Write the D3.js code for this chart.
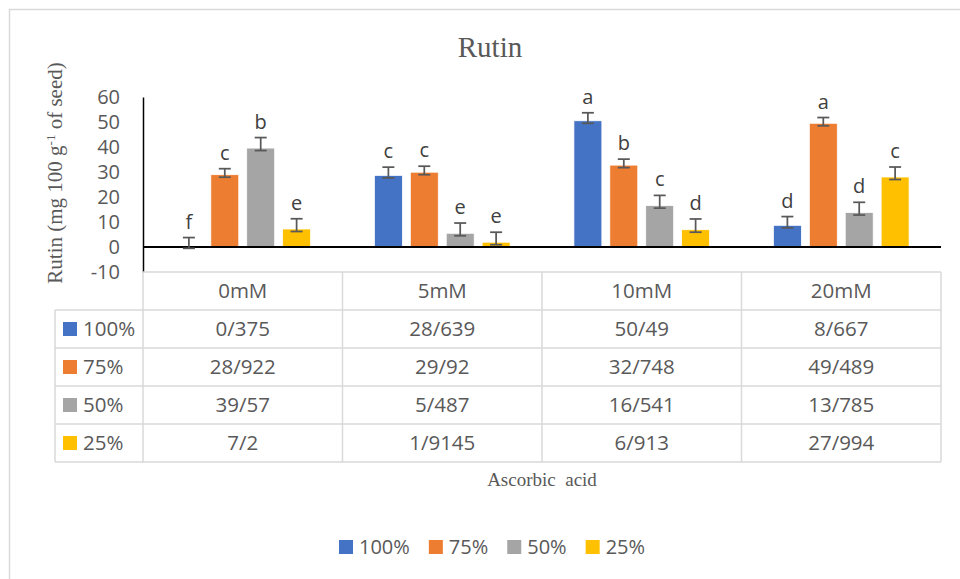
<!DOCTYPE html>
<html>
<head>
<meta charset="utf-8">
<script src="https://cdn.jsdelivr.net/npm/d3@7"></script>
<style>
  html, body { margin: 0; padding: 0; background: #fff; }
  svg { display: block; }
</style>
</head>
<body>
<svg id="chart" width="960" height="579"></svg>
<script>
// ---------------- data ----------------
const categories = ["0mM", "5mM", "10mM", "20mM"];
const seriesNames = ["100%", "75%", "50%", "25%"];
const values100 = [0.375, 28.639, 50.49, 8.667];
const values75  = [28.922, 29.92, 32.748, 49.489];
const values50  = [39.57, 5.487, 16.541, 13.785];
const values25  = [7.2, 1.9145, 6.913, 27.994];
const errPlus100 = [3.4, 3.3, 3.2, 3.5];
const errPlus75  = [2.4, 2.4, 2.4, 2.3];
const errPlus50  = [4.2, 4.1, 4.1, 4.1];
const errPlus25  = [4.1, 4.0, 4.3, 4.0];
const errMinus100 = [0.9, 1.0, 1.0, 1.0];
const errMinus75  = [1.0, 1.0, 1.0, 1.0];
const errMinus50  = [1.0, 1.0, 1.0, 1.0];
const errMinus25  = [1.0, 1.0, 1.0, 1.0];
const letters100 = ["f", "c", "a", "d"];
const letters75  = ["c", "c", "b", "a"];
const letters50  = ["b", "e", "c", "d"];
const letters25  = ["e", "e", "d", "c"];
const yTicks = [-10, 0, 10, 20, 30, 40, 50, 60];
const colors = ["#4472C4", "#ED7D31", "#A5A5A5", "#FFC000"];

const series = [
  { name: seriesNames[0], values: values100, up: errPlus100, down: errMinus100, letters: letters100, color: colors[0] },
  { name: seriesNames[1], values: values75,  up: errPlus75,  down: errMinus75,  letters: letters75,  color: colors[1] },
  { name: seriesNames[2], values: values50,  up: errPlus50,  down: errMinus50,  letters: letters50,  color: colors[2] },
  { name: seriesNames[3], values: values25,  up: errPlus25,  down: errMinus25,  letters: letters25,  color: colors[3] }
];

// ---------------- layout ----------------
const svg = d3.select("#chart");
const sansFont = "'Open Sans', 'Noto Sans', sans-serif";
const serifFont = "'Liberation Serif', 'Times New Roman', serif";
const plotLeft = 143, plotRight = 941, plotTop = 97, plotBottom = 272;
const rowH = 38;
const tableLeft = 55;

// outer border
svg.append("rect").attr("x", 9.5).attr("y", 9.5).attr("width", 1000).attr("height", 1000)
  .attr("fill", "none").attr("stroke", "#d9d9d9").attr("stroke-width", 1.5);

const y = d3.scaleLinear().domain([-10, 60]).range([plotBottom, plotTop]);
const x0 = d3.scaleBand().domain(categories).range([plotLeft, plotRight]);
const x1 = d3.scaleBand().domain(seriesNames).range([0, x0.bandwidth()])
  .paddingInner(0.222).paddingOuter(0.889);

// title
svg.append("text").attr("x", 490).attr("y", 57).attr("text-anchor", "middle")
  .attr("font-family", serifFont).attr("font-size", 29).attr("fill", "#595959").text("Rutin");

// y axis label
const yl = svg.append("text")
  .attr("transform", "translate(62,173) rotate(-90)")
  .attr("text-anchor", "middle")
  .attr("font-family", serifFont).attr("font-size", 21).attr("fill", "#595959");
yl.append("tspan").text("Rutin (mg 100 g");
yl.append("tspan").attr("font-size", 13).attr("dy", -7).text("-1");
yl.append("tspan").attr("dy", 7).text(" of seed)");

// y axis
const yAxis = d3.axisLeft(y).tickValues(yTicks).tickSize(0).tickPadding(23).tickFormat(d => String(d));
const gy = svg.append("g").attr("transform", `translate(${plotLeft},0)`).call(yAxis);
gy.select(".domain").attr("stroke", "#000").attr("stroke-width", 1.5);
gy.selectAll("text").attr("font-family", sansFont).attr("font-size", 20).attr("fill", "#595959");

// table grid
const tableG = svg.append("g");
const gridColor = "#d9d9d9";
const hLines = [0, 1, 2, 3, 4, 5];
hLines.forEach(i => {
  tableG.append("line")
    .attr("x1", i === 0 ? plotLeft : tableLeft).attr("x2", plotRight)
    .attr("y1", plotBottom + i * rowH).attr("y2", plotBottom + i * rowH)
    .attr("stroke", gridColor).attr("stroke-width", 1.5);
});
tableG.append("line").attr("x1", tableLeft).attr("x2", tableLeft)
  .attr("y1", plotBottom + rowH).attr("y2", plotBottom + 5 * rowH)
  .attr("stroke", gridColor).attr("stroke-width", 1.5);
categories.forEach(c => {
  tableG.append("line").attr("x1", x0(c)).attr("x2", x0(c))
    .attr("y1", plotBottom).attr("y2", plotBottom + 5 * rowH)
    .attr("stroke", gridColor).attr("stroke-width", 1.5);
});
tableG.append("line").attr("x1", plotRight).attr("x2", plotRight)
  .attr("y1", plotBottom).attr("y2", plotBottom + 5 * rowH)
  .attr("stroke", gridColor).attr("stroke-width", 1.5);

// header row
categories.forEach(c => {
  tableG.append("text").attr("x", x0(c) + x0.bandwidth() / 2).attr("y", plotBottom + rowH / 2)
    .attr("dy", "0.35em").attr("text-anchor", "middle")
    .attr("font-family", sansFont).attr("font-size", 20.5).attr("fill", "#595959").text(c);
});
// data rows
series.forEach((s, si) => {
  const rowY = plotBottom + (si + 1) * rowH;
  tableG.append("rect").attr("x", 63).attr("y", rowY + rowH / 2 - 7).attr("width", 14).attr("height", 14)
    .attr("fill", s.color);
  tableG.append("text").attr("x", 83).attr("y", rowY + rowH / 2).attr("dy", "0.35em")
    .attr("font-family", sansFont).attr("font-size", 20.5).attr("fill", "#595959").text(s.name);
  s.values.forEach((v, ci) => {
    tableG.append("text").attr("x", x0(categories[ci]) + x0.bandwidth() / 2).attr("y", rowY + rowH / 2)
      .attr("dy", "0.35em").attr("text-anchor", "middle")
      .attr("font-family", sansFont).attr("font-size", 20.5).attr("fill", "#595959")
      .text(String(v).replace(".", "/"));
  });
});

// bars
const groups = svg.append("g").selectAll("g").data(series).join("g");
groups.each(function(s) {
  const g = d3.select(this);
  s.values.forEach((v, ci) => {
    const bx = x0(categories[ci]) + x1(s.name);
    g.append("rect").attr("x", bx).attr("width", x1.bandwidth())
      .attr("y", y(Math.max(0, v))).attr("height", Math.abs(y(v) - y(0)))
      .attr("fill", s.color).attr("stroke", "#fff").attr("stroke-width", 0.75);
  });
});

// x axis (zero line)
svg.append("line").attr("x1", plotLeft).attr("x2", plotRight).attr("y1", y(0)).attr("y2", y(0))
  .attr("stroke", "#000").attr("stroke-width", 2);

// error bars & letters
series.forEach(s => {
  s.values.forEach((v, ci) => {
    const cx = x0(categories[ci]) + x1(s.name) + x1.bandwidth() / 2;
    const top = y(v + s.up[ci]);
    const bot = y(v - s.down[ci]);
    const eb = svg.append("g").attr("stroke", "#595959").attr("stroke-width", 1.75);
    eb.append("line").attr("x1", cx).attr("x2", cx).attr("y1", top).attr("y2", bot);
    eb.append("line").attr("x1", cx - 6).attr("x2", cx + 6).attr("y1", top).attr("y2", top);
    eb.append("line").attr("x1", cx - 6).attr("x2", cx + 6).attr("y1", bot).attr("y2", bot);
    svg.append("text").attr("x", cx).attr("y", top - 9).attr("text-anchor", "middle")
      .attr("font-family", sansFont).attr("font-size", 20).attr("fill", "#404040").text(s.letters[ci]);
  });
});

// x axis title
svg.append("text").attr("x", 542).attr("y", 486).attr("text-anchor", "middle")
  .attr("font-family", serifFont).attr("font-size", 19).attr("fill", "#595959")
  .attr("xml:space", "preserve").text("Ascorbic  acid");

// bottom legend
let lx = 339;
series.forEach(s => {
  svg.append("rect").attr("x", lx).attr("y", 540).attr("width", 14).attr("height", 14).attr("fill", s.color);
  const t = svg.append("text").attr("x", lx + 20).attr("y", 547).attr("dy", "0.35em")
    .attr("font-family", sansFont).attr("font-size", 20).attr("fill", "#595959").text(s.name);
  lx += 20 + t.node().getComputedTextLength() + 19;
});
</script>
</body>
</html>
